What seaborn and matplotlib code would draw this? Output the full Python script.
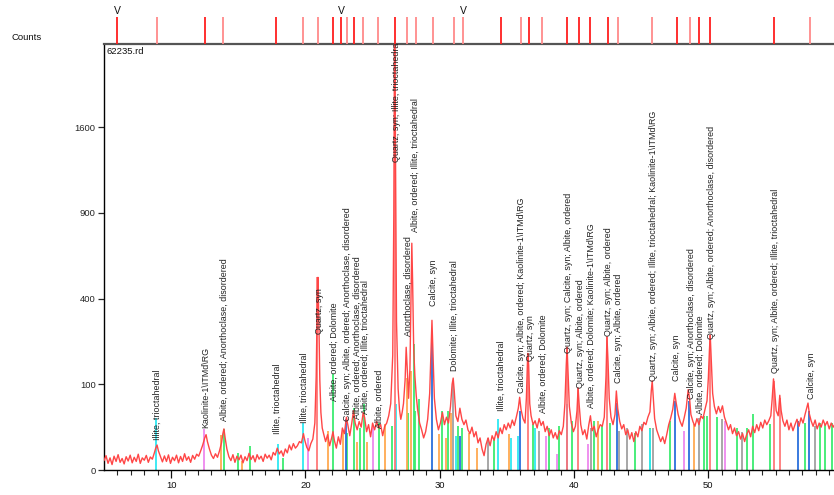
import numpy as np
import pandas as pd
import matplotlib
matplotlib.use("Agg")
import matplotlib.pyplot as plt
import seaborn as sns

# ---------------- data ----------------
two_theta = [5.0, 5.15, 5.3, 5.45, 5.6, 5.75, 5.9, 6.05, 6.2, 6.35, 6.5, 6.65, 6.8, 6.95, 7.1, 7.25, 7.4, 7.55, 7.7, 7.85,
             8.0, 8.15, 8.3, 8.45, 8.6, 8.75, 8.85, 8.95, 9.05, 9.2, 9.35, 9.5, 9.65, 9.8, 9.95, 10.1, 10.25, 10.4, 10.55, 10.7,
             10.85, 11.0, 11.15, 11.3, 11.45, 11.6, 11.75, 11.9, 12.05, 12.2, 12.35, 12.5, 12.6, 12.7, 12.85, 13.0, 13.15, 13.3,
             13.45, 13.6, 13.75, 13.85, 13.93, 14.02, 14.15, 14.3, 14.45, 14.6, 14.75, 14.9, 15.05, 15.2, 15.35, 15.5, 15.65,
             15.8, 15.95, 16.1, 16.25, 16.4, 16.55, 16.7, 16.85, 17.0, 17.15, 17.3, 17.45, 17.6, 17.75, 17.9, 18.05, 18.2, 18.35,
             18.5, 18.65, 18.8, 18.95, 19.1, 19.25, 19.4, 19.55, 19.7, 19.85, 19.95, 20.1, 20.25, 20.4, 20.55, 20.7, 20.8, 20.88,
             20.93, 21.0, 21.07, 21.15, 21.25, 21.35, 21.5, 21.65, 21.8, 21.95, 22.05, 22.15, 22.3, 22.45, 22.6, 22.75, 22.9,
             23.05, 23.15, 23.3, 23.45, 23.58, 23.7, 23.85, 24.0, 24.15, 24.3, 24.4, 24.55, 24.7, 24.85, 25.0, 25.15, 25.3,
             25.45, 25.6, 25.75, 25.9, 26.05, 26.2, 26.35, 26.5, 26.58, 26.64, 26.7, 26.78, 26.9, 27.0, 27.1, 27.2, 27.3, 27.42,
             27.5, 27.58, 27.68, 27.78, 27.86, 27.92, 27.98, 28.06, 28.15, 28.25, 28.35, 28.5, 28.65, 28.8, 28.95, 29.1, 29.25,
             29.35, 29.42, 29.5, 29.6, 29.75, 29.9, 30.05, 30.2, 30.35, 30.5, 30.65, 30.8, 30.92, 31.0, 31.08, 31.2, 31.35, 31.5,
             31.65, 31.8, 31.95, 32.1, 32.25, 32.4, 32.55, 32.7, 32.85, 33.0, 33.15, 33.3, 33.45, 33.6, 33.75, 33.9, 34.05, 34.2,
             34.35, 34.5, 34.65, 34.8, 34.95, 35.1, 35.25, 35.4, 35.55, 35.7, 35.85, 35.95, 36.05, 36.2, 36.35, 36.45, 36.55,
             36.62, 36.7, 36.8, 36.95, 37.1, 37.25, 37.4, 37.55, 37.7, 37.85, 38.0, 38.15, 38.3, 38.45, 38.6, 38.75, 38.9, 39.05,
             39.2, 39.32, 39.42, 39.48, 39.55, 39.65, 39.8, 39.95, 40.1, 40.22, 40.3, 40.38, 40.5, 40.65, 40.8, 40.95, 41.1,
             41.22, 41.35, 41.5, 41.65, 41.8, 41.95, 42.1, 42.25, 42.38, 42.45, 42.53, 42.62, 42.75, 42.9, 43.05, 43.15, 43.25,
             43.4, 43.55, 43.7, 43.85, 44.0, 44.15, 44.3, 44.45, 44.6, 44.75, 44.9, 45.05, 45.2, 45.35, 45.5, 45.65, 45.75, 45.82,
             45.9, 46.0, 46.15, 46.3, 46.45, 46.6, 46.75, 46.9, 47.05, 47.2, 47.35, 47.5, 47.6, 47.75, 47.9, 48.05, 48.2, 48.35,
             48.5, 48.6, 48.7, 48.85, 49.0, 49.15, 49.3, 49.45, 49.6, 49.75, 49.9, 50.0, 50.08, 50.14, 50.22, 50.32, 50.45, 50.6,
             50.75, 50.9, 51.05, 51.2, 51.35, 51.5, 51.65, 51.8, 51.95, 52.1, 52.25, 52.4, 52.55, 52.7, 52.85, 53.0, 53.15, 53.3,
             53.45, 53.6, 53.75, 53.9, 54.05, 54.2, 54.35, 54.5, 54.65, 54.75, 54.85, 54.93, 55.05, 55.2, 55.32, 55.42, 55.55,
             55.7, 55.85, 56.0, 56.15, 56.3, 56.45, 56.6, 56.75, 56.9, 57.05, 57.2, 57.32, 57.42, 57.52, 57.65, 57.8, 57.95, 58.1,
             58.25, 58.4, 58.55, 58.7, 58.85, 59.0, 59.15, 59.3, 59.4]
counts = [1.2, 2.8, 0.6, 2.0, 0.4, 2.6, 1.0, 3.2, 0.8, 1.8, 0.5, 2.4, 1.1, 3.0, 0.7, 2.2, 1.0, 3.4, 0.6, 2.0,
          1.3, 2.9, 0.8, 2.3, 1.6, 4.0, 6.5, 8.5, 5.0, 2.5, 0.9, 2.7, 1.0, 3.1, 0.6, 2.2, 1.2, 3.0, 0.7, 2.5,
          1.0, 3.6, 1.3, 2.4, 0.8, 2.9, 1.6, 3.4, 2.6, 5.0, 8.5, 14, 17, 11, 6.0, 3.0, 1.8, 3.6,
          2.2, 5.0, 10, 18, 23, 14, 6.0, 2.4, 1.2, 3.2, 0.8, 2.6, 1.4, 3.0, 0.7, 2.4, 1.2,
          3.8, 1.5, 2.8, 0.9, 3.2, 1.6, 2.6, 1.0, 3.4, 1.9, 3.0, 1.4, 4.2, 3.0, 6.5, 3.5, 5.0, 2.6,
          6.0, 4.0, 8.5, 5.5, 9.5, 6.5, 8.0, 11, 10, 18, 12, 7.0, 5.0, 9.5, 13, 30, 120, 380,
          505, 300, 110, 45, 24, 18, 11, 17, 8.0, 14, 20, 12, 6.5, 15, 9.0, 24, 18,
          38, 28, 16, 30, 48, 30, 22, 32, 25, 45, 38, 20, 28, 15, 30, 22, 32,
          24, 28, 16, 26, 30, 40, 60, 180, 900, 2900, 1400, 300, 90, 50, 35, 45, 60, 110,
          205, 140, 70, 140, 420, 700, 480, 200, 120, 75, 50, 30, 22, 14, 20, 35, 80,
          200, 305, 180, 70, 35, 22, 30, 45, 28, 38, 30, 55, 100, 115, 85, 40, 32, 52,
          35, 28, 34, 22, 18, 25, 15, 20, 10, 14, 6.0, 2.8, 9.0, 14, 8.0, 16, 12, 20,
          14, 24, 18, 28, 22, 30, 24, 34, 27, 38, 52, 72, 50, 36, 30, 70, 185,
          150, 60, 40, 28, 33, 24, 36, 27, 32, 20, 26, 16, 22, 14, 19, 13, 21, 17,
          26, 60, 150, 205, 130, 55, 30, 20, 26, 48, 92, 58, 28, 17, 22, 13, 28,
          40, 21, 26, 15, 22, 28, 26, 38, 120, 242, 160, 70, 38, 28, 42, 85, 52,
          32, 23, 28, 17, 22, 13, 19, 11, 20, 15, 26, 21, 31, 28, 38, 46, 85, 108,
          70, 36, 22, 16, 11, 15, 9.5, 17, 28, 37, 50, 80, 62, 42, 32, 26, 37, 52,
          88, 70, 42, 32, 26, 36, 28, 40, 36, 50, 65, 115, 195, 248, 160, 80, 55, 43,
          55, 45, 56, 38, 30, 22, 28, 18, 24, 16, 20, 13, 18, 11, 17, 22, 15, 26,
          19, 28, 21, 31, 24, 34, 28, 33, 40, 68, 113, 88, 48, 40, 76, 48, 33,
          26, 34, 22, 30, 21, 28, 35, 26, 37, 30, 42, 52, 61, 43, 33, 26, 34, 23,
          30, 25, 34, 27, 32, 23, 30, 25, 28]

# reference sticks (position, height) per phase
quartz_pos = [20.86, 26.64, 36.55, 39.5, 40.3, 42.45, 50.14, 54.87, 55.33]
quartz_h = [505, 2900, 185, 205, 92, 242, 248, 108, 71]
calcite_pos = [23.03, 29.46, 31.52, 35.99, 39.44, 43.19, 47.53, 48.59, 56.71, 57.51]
calcite_h = [36, 264, 16, 47, 60, 61, 65, 65, 33, 47]
albite_pos = [13.9, 15.0, 15.88, 18.32, 22.04, 23.13, 23.58, 24.07, 24.37, 25.44, 26.48, 27.67, 28.05, 28.12,
              28.42, 30.16, 30.6, 31.35, 31.65, 34.07, 36.93, 38.15, 38.91, 39.88, 41.45, 42.07, 42.69, 44.55,
              45.67, 47.16, 49.64, 49.89, 50.64, 52.13, 52.87, 53.36, 54.61, 57.21, 58.33, 58.7, 59.2]
albite_h = [23, 4, 8, 2, 126, 19, 53, 24, 60, 30, 26, 44, 217, 47,
            69, 47, 47, 26, 24, 14, 29, 24, 26, 33, 33, 28, 30, 19,
            24, 33, 40, 40, 38, 24, 24, 43, 29, 30, 30, 29, 30]
illite_pos = [8.88, 17.99, 19.85, 26.75, 31.22, 34.37, 35.32, 35.79, 37.1, 45.62]
illite_h = [37, 9, 30, 60, 16, 36, 14, 16, 24, 23]
kaolinite_pos = [12.48, 20.18, 25.02, 37.9, 38.72, 41.07, 48.22, 51.26]
kaolinite_h = [23, 14, 26, 16, 3.5, 9, 21, 33]
anorthoclase_pos = [13.7, 15.27, 21.67, 22.83, 23.83, 24.57, 25.9, 27.55, 27.85, 29.91, 30.48, 30.83,
                    32.21, 32.76, 35.19, 41.82, 48.96]
anorthoclase_h = [17, 1, 21, 21, 11, 11, 29, 116, 134, 18, 14, 44, 19, 6.6, 18, 33, 29]
dolomite_pos = [31.02, 33.58, 37.38, 41.27, 43.38, 43.93, 45.05, 45.87, 49.31, 51.0, 52.5, 57.95]
dolomite_h = [108, 14, 21, 24, 21, 24, 29, 24, 37, 36, 20, 26]

# peak-list markers in the top strip
peak_pos = [6.00, 8.91, 12.55, 13.89, 17.84, 19.81, 20.92, 22.08, 22.64, 23.13, 23.63, 24.32, 25.39, 26.70,
            27.55, 28.24, 29.49, 31.05, 31.74, 34.55, 36.06, 36.61, 37.60, 39.51, 40.40, 41.22, 42.56, 43.26,
            45.82, 47.65, 48.62, 49.31, 50.16, 54.92, 57.58]
peak_strong = [1, 0, 1, 0, 1, 0, 0, 1, 1, 0, 1, 0, 0, 1,
               0, 0, 0, 0, 0, 1, 0, 1, 0, 1, 1, 1, 1, 0,
               0, 1, 0, 1, 1, 1, 0]
v_marks = [6.0, 22.64, 31.74]

# peak annotations
KAO = "Kaolinite-1\\ITMd\\RG"
label_texts = ["Illite, trioctahedral", KAO, "Albite, ordered; Anorthoclase, disordered",
               "Illite, trioctahedral", "Illite, trioctahedral", "Quartz, syn", "Albite, ordered; Dolomite",
               "Calcite, syn; Albite, ordered; Anorthoclase, disordered",
               "Albite, ordered; Anorthoclase, disordered", "Albite, ordered; Illite, trioctahedral",
               "Albite, ordered", "Quartz, syn; Illite, trioctahedral", "Anorthoclase, disordered",
               "Albite, ordered; Illite, trioctahedral", "Calcite, syn", "Dolomite; Illite, trioctahedral",
               "Illite, trioctahedral", "Calcite, syn; Albite, ordered; " + KAO, "Quartz, syn",
               "Albite, ordered; Dolomite", "Quartz, syn; Calcite, syn; Albite, ordered",
               "Quartz, syn; Albite, ordered", "Albite, ordered; Dolomite; " + KAO,
               "Quartz, syn; Albite, ordered", "Calcite, syn; Albite, ordered",
               "Quartz, syn; Albite, ordered; Illite, trioctahedral; " + KAO, "Calcite, syn",
               "Calcite, syn; Anorthoclase, disordered", "Albite, ordered; Dolomite",
               "Quartz, syn; Albite, ordered; Anorthoclase, disordered",
               "Quartz, syn; Albite, ordered; Illite, trioctahedral", "Calcite, syn"]
label_x = [8.96, 12.58, 13.95, 17.92, 19.9, 21.04, 22.14, 23.1, 23.83, 24.45, 25.51, 26.75, 27.67, 28.17,
           29.53, 31.07, 34.62, 36.11, 36.73, 37.72, 39.58, 40.45, 41.27, 42.59, 43.31, 45.91, 47.65, 48.72,
           49.39, 50.21, 54.97, 57.71]
label_y = [12, 24, 33, 18, 30, 253, 65, 33, 36, 43, 24, 1290, 245, 768, 368, 134, 48, 81, 162, 44, 187,
           92, 53, 245, 104, 108, 108, 69, 43, 235, 129, 69]

y_ticks = [0, 100, 400, 900, 1600]
x_ticks = [10, 20, 30, 40, 50]

# ---------------- figure ----------------
sns.set_style("white")
plt.rcParams["font.family"] = ["Liberation Sans", "DejaVu Sans"]

W, H = 834, 495
fig = plt.figure(figsize=(W / 100, H / 100), dpi=100)
ax = fig.add_axes([104 / W, (H - 470) / H, 731 / W, 426 / H])
strip = fig.add_axes([104 / W, (H - 44) / H, 731 / W, 27 / H], sharex=ax)

XMIN, XMAX = 5.0, 5.0 + 731 / 13.43
YMAX = 2470

ax.set_yscale("function", functions=(lambda v: np.sqrt(np.clip(v, 0, None)), lambda v: np.square(v)))

# sticks
phases = [
    (albite_pos, albite_h, "#3cec70"),
    (anorthoclase_pos, anorthoclase_h, "#ffa950"),
    (illite_pos, illite_h, "#2ee8f2"),
    (kaolinite_pos, kaolinite_h, "#ee88ee"),
    (dolomite_pos, dolomite_h, "#a0a0a0"),
    (calcite_pos, calcite_h, "#2a6fdc"),
    (quartz_pos, quartz_h, "#ff7878"),
]
for pos, h, col in phases:
    ax.vlines(pos, 0, h, colors=col, lw=1.3, zorder=2)

df = pd.DataFrame({"two_theta": two_theta, "counts": counts})
sns.lineplot(data=df, x="two_theta", y="counts", ax=ax, color="#ff4646", lw=1.0,
             estimator=None, sort=False, zorder=3)

for s, x, y in zip(label_texts, label_x, label_y):
    ax.text(x, y, s, rotation=90, ha="center", va="bottom", fontsize=6.4, color="#222222",
            clip_on=True, zorder=4)

ax.set_xlim(XMIN, XMAX)
ax.set_ylim(0, YMAX)
ax.set_xticks(x_ticks)
ax.set_xticks(np.arange(6, 60, 1), minor=True)
ax.set_yticks(y_ticks)
ax.set_yticklabels([str(t) for t in y_ticks])
ax.set_xlabel("")
ax.set_ylabel("")
ax.tick_params(axis="x", which="major", direction="out", length=6, width=0.9, labelsize=6.8, pad=2,
               colors="#111111", bottom=True)
ax.tick_params(axis="x", which="minor", direction="out", length=3.5, width=0.8, bottom=True)
ax.tick_params(axis="y", which="major", direction="out", length=4, width=0.9, labelsize=6.8, pad=2, left=True)
for side in ["left", "bottom"]:
    ax.spines[side].set_color("#000000")
    ax.spines[side].set_linewidth(1.0)
ax.spines["top"].set_color("#555555")
ax.spines["top"].set_linewidth(1.6)
ax.spines["right"].set_visible(False)
ax.text(0.004, 0.993, "62235.rd", transform=ax.transAxes, ha="left", va="top", fontsize=6.8, color="#111111")

# top strip
strip.set_ylim(0, 1)
strip.axis("off")
for p, st in zip(peak_pos, peak_strong):
    strip.vlines(p, 0, 1, colors="#ff1f1f" if st else "#ff8a8a", lw=1.3)
for v in v_marks:
    strip.text(v, 1.03, "V", ha="center", va="bottom", fontsize=7.5, color="#111111", clip_on=False)

fig.text(12 / W, 1 - 38 / H, "Counts", ha="left", va="center", fontsize=6.8, color="#111111")

fig.savefig("out.png", dpi=100)
